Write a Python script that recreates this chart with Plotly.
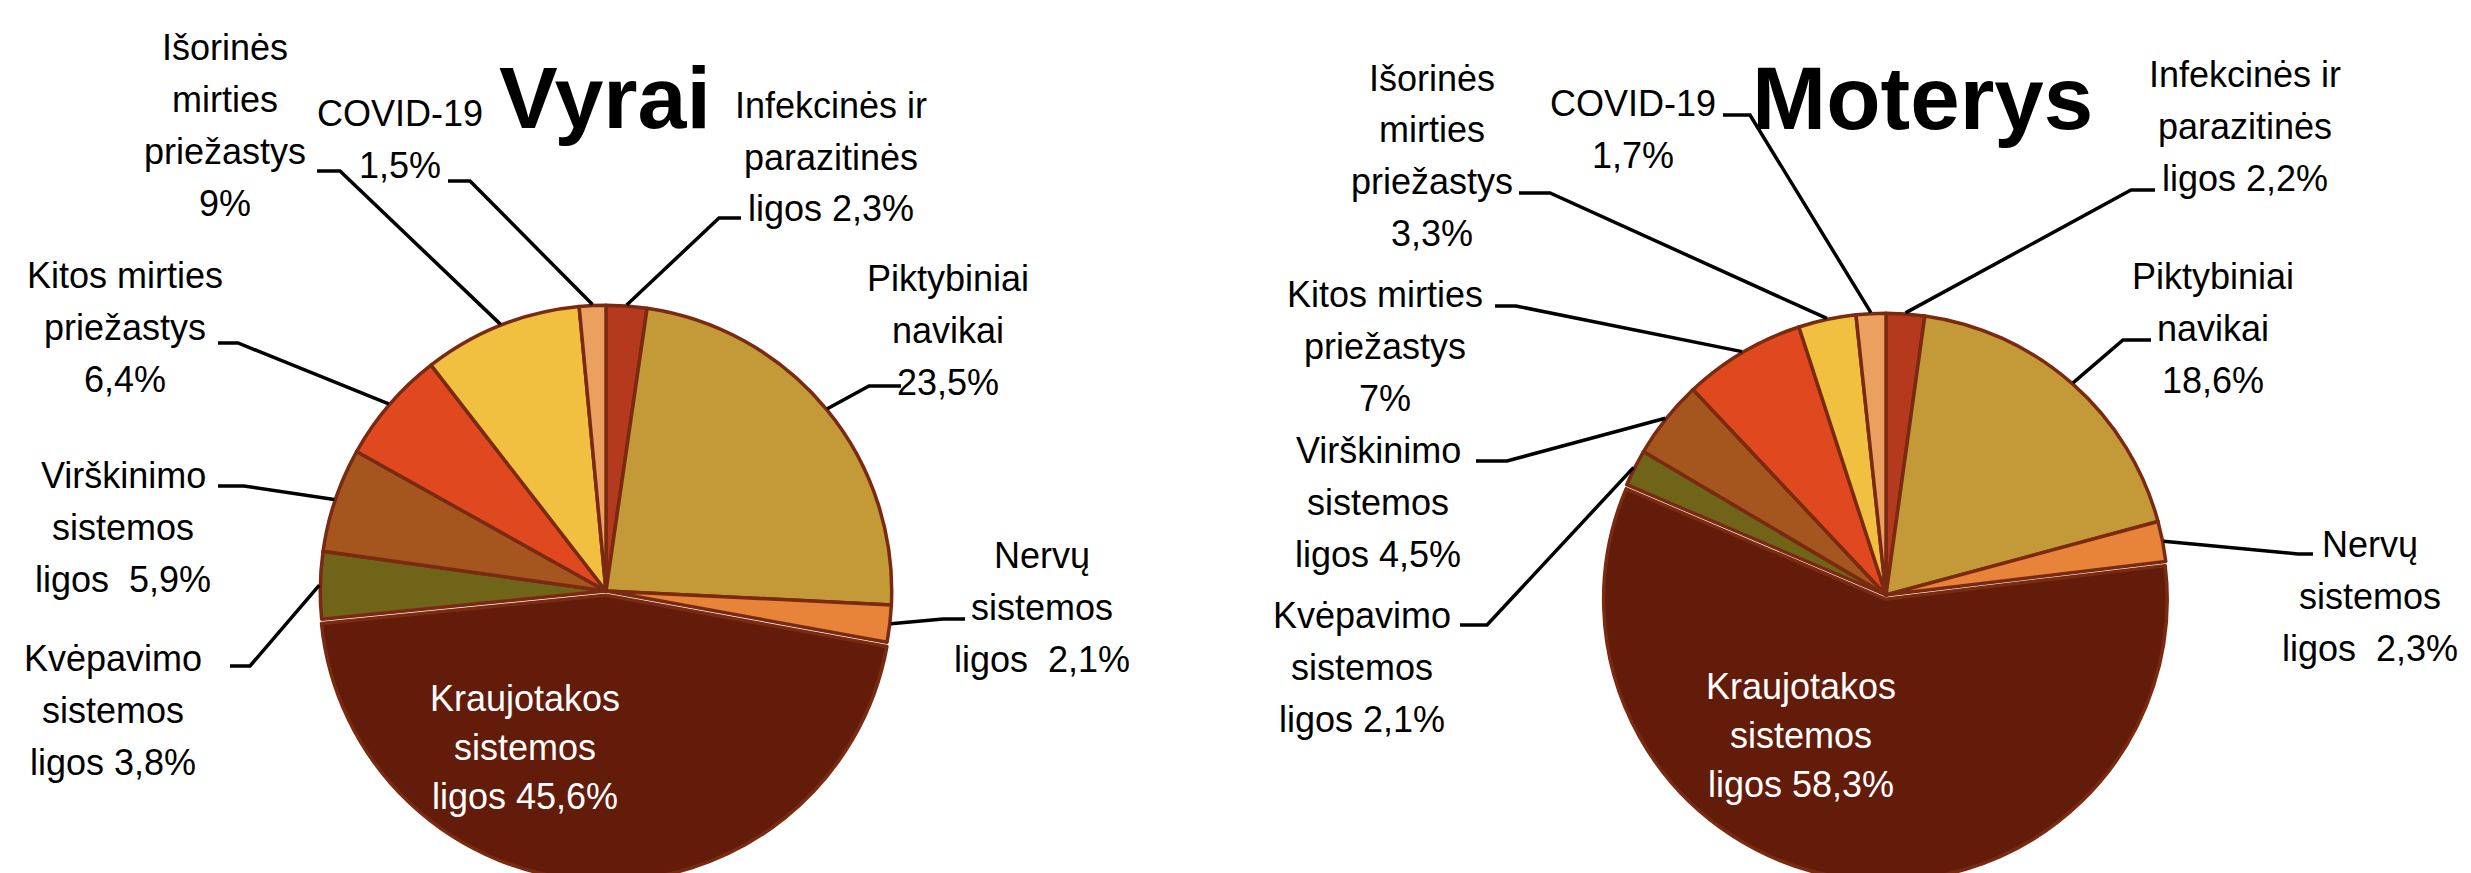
import math
import plotly.graph_objects as go

# Mirties priežasčių struktūra, %
categories = [
    "Infekcinės ir parazitinės ligos",
    "Piktybiniai navikai",
    "Nervų sistemos ligos",
    "Kraujotakos sistemos ligos",
    "Kvėpavimo sistemos ligos",
    "Virškinimo sistemos ligos",
    "Kitos mirties priežastys",
    "Išorinės mirties priežastys",
    "COVID-19",
]
values_vyrai = [2.3, 23.5, 2.1, 45.6, 3.8, 5.9, 6.4, 9.0, 1.5]
values_moterys = [2.2, 18.6, 2.3, 58.3, 2.1, 4.5, 7.0, 3.3, 1.7]

colors = ["#B5391C", "#C49A38", "#E8843A", "#641C0A", "#6F6418",
          "#A5551E", "#E0491F", "#F2C040", "#EBA060"]

# label lines, {v} gets the value
lines_vyrai = [
    ["Infekcinės ir", "parazitinės", "ligos {v}%"],
    ["Piktybiniai", "navikai", "{v}%"],
    ["Nervų", "sistemos", "ligos\u00a0 {v}%"],
    ["Kraujotakos", "sistemos", "ligos {v}%"],
    ["Kvėpavimo", "sistemos", "ligos {v}%"],
    ["Virškinimo", "sistemos", "ligos\u00a0 {v}%"],
    ["Kitos mirties", "priežastys", "{v}%"],
    ["Išorinės", "mirties", "priežastys", "{v}%"],
    ["COVID-19", "{v}%"],
]
lines_moterys = [
    ["Infekcinės ir", "parazitinės", "ligos {v}%"],
    ["Piktybiniai", "navikai", "{v}%"],
    ["Nervų", "sistemos", "ligos\u00a0 {v}%"],
    ["Kraujotakos", "sistemos", "ligos {v}%"],
    ["Kvėpavimo", "sistemos", "ligos {v}%"],
    ["Virškinimo", "sistemos", "ligos {v}%"],
    ["Kitos mirties", "priežastys", "{v}%"],
    ["Išorinės", "mirties", "priežastys", "{v}%"],
    ["COVID-19", "{v}%"],
]

W, H = 2471, 873
PULL = 0.015
FONT = "Liberation Sans, Arial, sans-serif"

# label placement in pixels: (text center x, first line y, elbow, tick end)
layout_vyrai = [
    (823, 97, (711, 210), (733, 210)),
    (940, 270, (861, 378), (893, 378)),
    (1034, 547, (935, 611), (957, 611)),
    (517, 690, None, None),
    (105, 650, (242, 658), (222, 658)),
    (115, 467, (236, 478), (210, 478)),
    (117, 267, (230, 335), (210, 335)),
    (217, 40, (332, 163), (309, 163)),
    (392, 105, (462, 173), (440, 173)),
]
layout_moterys = [
    (2237, 67, (2123, 182), (2147, 182)),
    (2205, 268, (2115, 332), (2143, 332)),
    (2362, 536, (2290, 546), (2305, 546)),
    (1793, 678, None, None),
    (1354, 607, (1479, 617), (1452, 617)),
    (1370, 442, (1499, 453), (1468, 453)),
    (1377, 287, (1508, 298), (1487, 298)),
    (1424, 70, (1542, 185), (1511, 185)),
    (1625, 95, (1742, 107), (1715, 107)),
]


def fmt(v):
    if float(v).is_integer():
        return str(int(v))
    return str(v).replace(".", ",")


def px(x, y):
    return x / W, 1 - y / H


fig = go.Figure()
annotations = []
shapes = []


def add_pie(values, lines, placement, cx, cy, title, title_xy, title_size):
    half_h = H - cy  # pie box reaches bottom edge
    x0, _ = px(cx - half_h, 0)
    x1, _ = px(cx + half_h, 0)
    fig.add_trace(go.Pie(
        labels=categories, values=values, sort=False, direction="clockwise",
        rotation=0, textinfo="none", hoverinfo="label+value",
        pull=[PULL if c.startswith("Kraujotakos") else 0 for c in categories],
        marker=dict(colors=colors, line=dict(color="#7B2A12", width=3.5)),
        domain=dict(x=[x0, x1], y=[0, 2 * half_h / H]),
        showlegend=False,
    ))
    r = half_h / (1 + PULL)
    total = sum(values)
    cum = 0
    for v, lns, (tx, ty, elbow, tick) in zip(values, lines, placement):
        mid = (cum + v / 2) / total * 2 * math.pi
        cum += v
        inside = elbow is None
        step = 49 if inside else 52
        for k, ln in enumerate(lns):
            x, y = px(tx, ty + k * step)
            annotations.append(dict(
                x=x, y=y, xref="paper", yref="paper", showarrow=False,
                text=ln.format(v=fmt(v)), xanchor="center", yanchor="middle",
                font=dict(family=FONT, size=36, color="white" if inside else "black"),
            ))
        if inside:
            continue
        ex, ey = cx + (r + 1) * math.sin(mid), cy - (r + 1) * math.cos(mid)
        pts = [px(ex, ey), px(*elbow), px(*tick)]
        path = "M {} {} L {} {} L {} {}".format(*[c for p in pts for c in p])
        shapes.append(dict(type="path", path=path, xref="paper", yref="paper",
                           line=dict(color="black", width=3.5)))
    x, y = px(*title_xy)
    annotations.append(dict(
        x=x, y=y, xref="paper", yref="paper", showarrow=False, text="<b>%s</b>" % title,
        xanchor="center", yanchor="middle",
        font=dict(family=FONT, size=title_size, color="black"),
    ))


add_pie(values_vyrai, lines_vyrai, layout_vyrai, 598, 583, "Vyrai", (597, 90), 88)
add_pie(values_moterys, lines_moterys, layout_moterys, 1878, 587, "Moterys", (1915, 90), 89)

fig.update_layout(
    width=W, height=H,
    margin=dict(l=0, r=0, t=0, b=0),
    paper_bgcolor="white", plot_bgcolor="white",
    annotations=annotations, shapes=shapes,
)
fig.write_html("out.html")
